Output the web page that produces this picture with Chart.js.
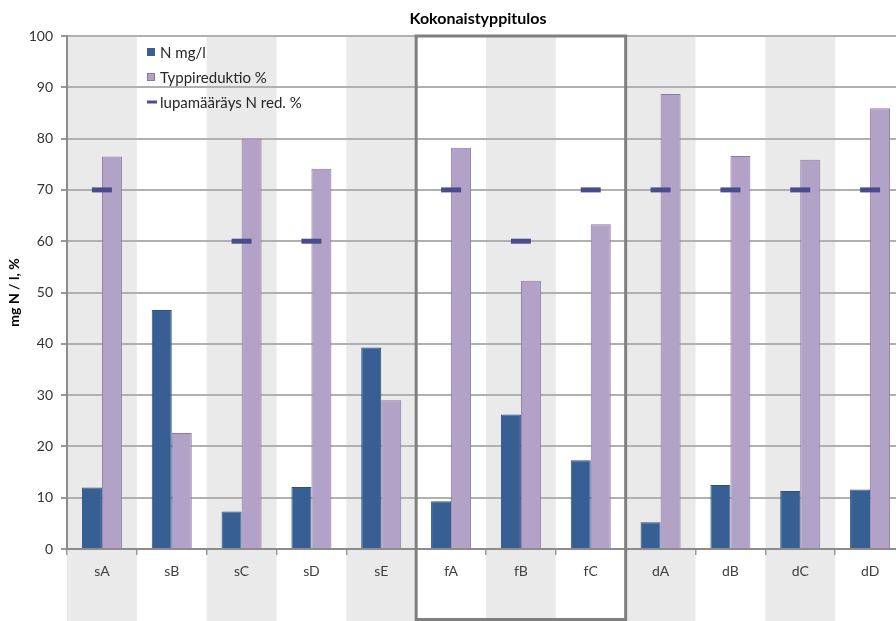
<!DOCTYPE html>
<html lang="fi">
<head>
<meta charset="utf-8">
<title>Kokonaistyppitulos</title>
<script src="https://cdn.jsdelivr.net/npm/chart.js@4/dist/chart.umd.min.js"></script>
<style>
  html, body { margin: 0; padding: 0; background: #ffffff; overflow: hidden; }
  #wrap { width: 905px; height: 621px; }
</style>
</head>
<body>
<div id="wrap"><canvas id="chart" width="905" height="621"></canvas></div>
<script>
// Treatment plants
const categories = ['sA', 'sB', 'sC', 'sD', 'sE', 'fA', 'fB', 'fC', 'dA', 'dB', 'dC', 'dD'];
// Total nitrogen in effluent, mg/l
const nitrogenMgL = [12.0, 46.6, 7.3, 12.1, 39.3, 9.3, 26.2, 17.3, 5.2, 12.5, 11.3, 11.6];
// Nitrogen reduction, %
const reductionPct = [76.5, 22.6, 80.0, 74.1, 29.0, 78.2, 52.3, 63.3, 88.7, 76.6, 75.9, 85.9];
// Permit requirement for nitrogen reduction, % (null = no requirement)
const permitPct = [70, null, 60, 60, null, 70, 60, 70, 70, 70, 70, 70];
const yTicks = { min: 0, max: 100, step: 10 };

const seriesNames = ['N mg/l', 'Typpireduktio %', 'lupamääräys N red. %'];
const FONT = 'Lato, "Open Sans", sans-serif';
const BLUE = '#375f94';
const PURPLE = '#b3a2c8';
const PURPLE_EDGE = '#8a78a9';
const PERMIT = '#4a4b8c';

// Alternate shaded columns, drawn under everything and down into the label area
const bandsPlugin = {
  id: 'bands',
  beforeDraw(chart) {
    const { ctx, chartArea, scales } = chart;
    const x = scales.x;
    const half = (x.getPixelForValue(1) - x.getPixelForValue(0)) / 2;
    ctx.save();
    ctx.fillStyle = '#eaeaea';
    categories.forEach((c, i) => {
      if (i % 2 === 0) {
        const cx = x.getPixelForValue(i);
        ctx.fillRect(cx - half, chartArea.top, half * 2, chart.height - chartArea.top);
      }
    });
    ctx.restore();
  }
};

// Frame around the fA–fC group, title and the in-plot legend
const overlayPlugin = {
  id: 'overlay',
  afterDraw(chart) {
    const { ctx, chartArea, scales } = chart;
    const x = scales.x;
    const left = (x.getPixelForValue(4) + x.getPixelForValue(5)) / 2;
    const right = (x.getPixelForValue(7) + x.getPixelForValue(8)) / 2;
    ctx.save();
    ctx.strokeStyle = '#7f7f7f';
    ctx.lineWidth = 3;
    ctx.strokeRect(left, chartArea.top, right - left, chart.height - 1.5 - chartArea.top);

    // chart title
    ctx.fillStyle = '#000000';
    ctx.font = 'bold 16px ' + FONT;
    ctx.textAlign = 'center';
    ctx.textBaseline = 'middle';
    ctx.fillText('Kokonaistyppitulos', 478, 19);

    // legend
    const lx = 147, tx = 160;
    const rows = [52, 77, 102];
    ctx.font = '15px ' + FONT;
    ctx.textAlign = 'left';
    ctx.fillStyle = BLUE;
    ctx.fillRect(lx, rows[0] - 4, 8, 8);
    ctx.fillStyle = PURPLE;
    ctx.fillRect(lx, rows[1] - 4, 8, 8);
    ctx.strokeStyle = PURPLE_EDGE;
    ctx.lineWidth = 1;
    ctx.strokeRect(lx + 0.5, rows[1] - 3.5, 7, 7);
    ctx.strokeStyle = PERMIT;
    ctx.lineWidth = 3;
    ctx.beginPath();
    ctx.moveTo(lx, rows[2]);
    ctx.lineTo(lx + 10, rows[2]);
    ctx.stroke();
    ctx.fillStyle = '#262626';
    seriesNames.forEach((name, i) => ctx.fillText(name, tx, rows[i] + 1));
    ctx.restore();
  }
};

new Chart(document.getElementById('chart'), {
  type: 'bar',
  data: {
    labels: categories,
    datasets: [
      {
        label: seriesNames[0],
        data: nitrogenMgL,
        backgroundColor: BLUE,
        borderColor: '#2d5183',
        borderWidth: 1,
        order: 1
      },
      {
        label: seriesNames[1],
        data: reductionPct,
        backgroundColor: PURPLE,
        borderColor: PURPLE_EDGE,
        borderWidth: 1,
        order: 1
      },
      {
        type: 'line',
        label: seriesNames[2],
        data: permitPct,
        showLine: false,
        pointStyle: 'line',
        pointRadius: 10,
        pointHoverRadius: 10,
        pointBorderWidth: 5,
        pointBorderColor: PERMIT,
        pointBackgroundColor: PERMIT,
        order: 0
      }
    ]
  },
  options: {
    responsive: false,
    animation: false,
    devicePixelRatio: 1,
    layout: { autoPadding: false, padding: { top: 36, left: 0, right: 0, bottom: 0 } },
    datasets: { bar: { categoryPercentage: 0.573, barPercentage: 1.0 } },
    plugins: {
      legend: { display: false },
      title: { display: false },
      tooltip: { enabled: false }
    },
    scales: {
      x: {
        afterFit(scale) { scale.height = 72; },
        grid: {
          drawOnChartArea: false,
          drawTicks: true,
          tickLength: 6,
          tickColor: '#9a9a9a',
          lineWidth: 1.5
        },
        border: { display: true, color: '#8c8c8c', width: 2 },
        ticks: { color: '#404040', font: { family: FONT, size: 14 }, padding: 8 }
      },
      y: {
        min: yTicks.min,
        max: yTicks.max,
        afterFit(scale) { scale.width = 67; },
        grid: {
          color: '#b0b0b0',
          lineWidth: 2,
          tickLength: 6,
          tickColor: '#9a9a9a'
        },
        border: { display: true, color: '#8c8c8c', width: 2 },
        ticks: {
          stepSize: yTicks.step,
          color: '#333333',
          font: { family: FONT, size: 14 },
          padding: 8
        },
        title: {
          display: true,
          text: 'mg N / l, %',
          color: '#000000',
          font: { family: FONT, size: 14, weight: 'bold' },
          padding: { top: 6, bottom: 0 }
        }
      }
    }
  },
  plugins: [bandsPlugin, overlayPlugin]
});
</script>
</body>
</html>
